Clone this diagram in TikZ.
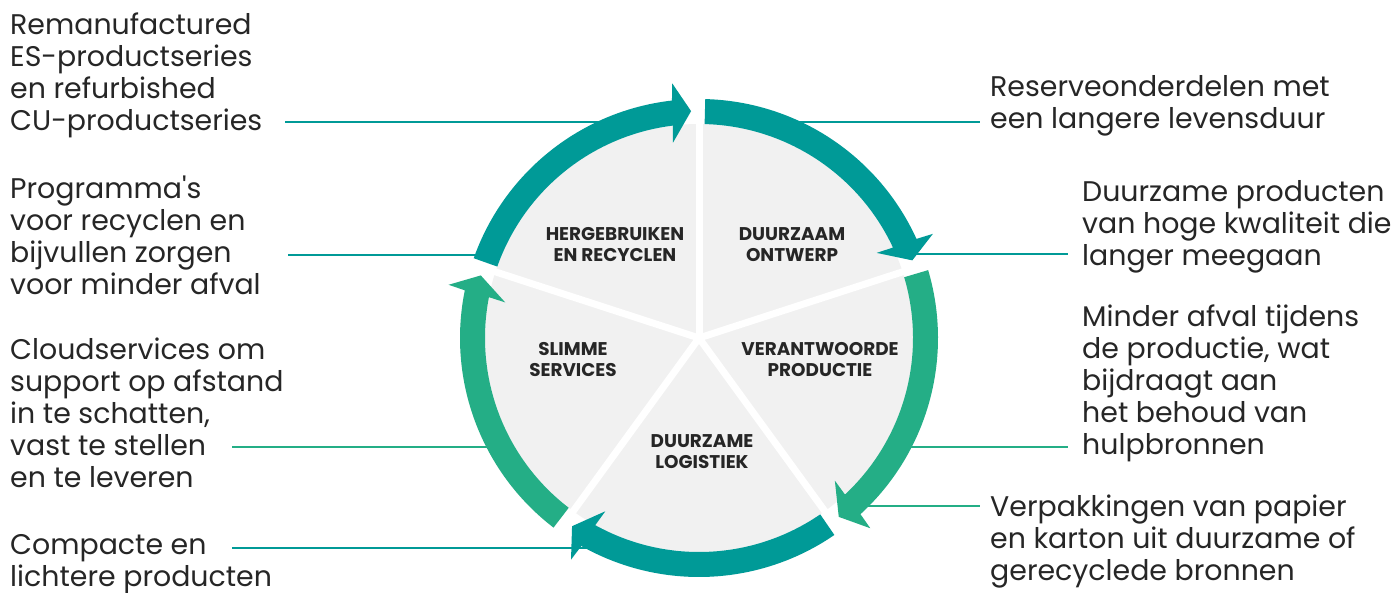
\documentclass[tikz,border=0pt]{standalone}
\usepackage{fontspec}
\setmainfont{Poppins}[Ligatures=TeXOff]
\definecolor{tealA}{RGB}{0,154,151}
\definecolor{greenA}{RGB}{36,174,134}
\definecolor{discgrey}{RGB}{241,241,241}
\definecolor{ink}{RGB}{38,38,38}
\tikzset{
  side/.style={anchor=base west, align=left, inner sep=0pt, font=\fontsize{28.4}{32}\selectfont, text=ink},
  lab/.style={align=center, inner sep=0pt, font=\bfseries\fontsize{18.4}{21}\selectfont, text=ink},
  conn/.style={line width=2pt},
  gapline/.style={white, line width=7pt},
}
\newcommand\cyclearrow[3]{%
  \pgfmathsetmacro\aT{#1-1.5}%
  \pgfmathsetmacro\aO{#2+6.5}%
  \pgfmathsetmacro\aOb{#2+6}%
  \pgfmathsetmacro\aTip{#2+2}%
  \pgfmathsetmacro\aIb{#2+7.6}%
  \pgfmathsetmacro\aI{#2+7}%
  \fill[#3, shift={(C)}] (\aT:239) arc[start angle=\aT, end angle=\aO, radius=239]
    -- (\aOb:256) -- (\aTip:227) -- (\aIb:197) -- (\aI:214)
    arc[start angle=\aI, end angle=\aT, radius=214] -- cycle;}
\begin{document}
\begin{tikzpicture}[x=1pt,y=1pt]
\useasboundingbox (0,0) rectangle (1391,592);
\fill[white] (0,0) rectangle (1391,592);
\coordinate (C) at (699,254);

% side texts (anchored at the baseline of the last line)
\node[side] (l1) at (10,461) {Remanufactured\\ES-productseries\\en refurbished\\CU-productseries};
\node[side] (l2) at (10,297) {Programma's\\voor recyclen en\\bijvullen zorgen\\voor minder afval};
\node[side] (l3) at (10,105) {Cloudservices om\\support op afstand\\in te schatten,\\vast te stellen\\en te leveren};
\node[side] (l4) at (10,6) {Compacte en\\lichtere producten};
\node[side] (r1) at (990,463) {Reserveonderdelen met\\een langere levensduur};
\node[side] (r2) at (1082,326) {Duurzame producten\\van hoge kwaliteit die\\langer meegaan};
\node[side] (r3) at (1082,138) {Minder afval tijdens\\de productie, wat\\bijdraagt aan\\het behoud van\\hulpbronnen};
\node[side] (r4) at (990,12) {Verpakkingen van papier\\en karton uit duurzame of\\gerecyclede bronnen};

% connector endpoints
\coordinate (l1a) at (285,470); \coordinate (l1b) at (630,470);
\coordinate (l2a) at (288,337); \coordinate (l2b) at (492,337);
\coordinate (l3a) at (232,145); \coordinate (l3b) at (501,145);
\coordinate (l4a) at (232,44);  \coordinate (l4b) at (612,44);
\coordinate (r1a) at (766,470); \coordinate (r1b) at (980,470);
\coordinate (r2a) at (909,338); \coordinate (r2b) at (1068,338);
\coordinate (r3a) at (897,145); \coordinate (r3b) at (1068,145);
\coordinate (r4a) at (850,86);  \coordinate (r4b) at (980,86);
\draw[conn, tealA] (l1a) -- (l1b);
\draw[conn, tealA] (l2a) -- (l2b);
\draw[conn, greenA] (l3a) -- (l3b);
\draw[conn, tealA] (l4a) -- (l4b);
\draw[conn, tealA] (r1a) -- (r1b);
\draw[conn, tealA] (r2a) -- (r2b);
\draw[conn, greenA] (r3a) -- (r3b);
\draw[conn, greenA] (r4a) -- (r4b);

% disc
\fill[discgrey] (C) circle[radius=214];
\foreach \g in {90,18,-54,-126,162} \draw[gapline] (C) -- ++(\g:216);

% arrows
\cyclearrow{90}{18}{tealA}
\cyclearrow{18}{-54}{greenA}
\cyclearrow{-54}{-126}{tealA}
\cyclearrow{-126}{-198}{greenA}
\cyclearrow{-198}{-270}{tealA}

% labels
\node[lab] (s1) at (615,347) {HERGEBRUIKEN\\EN RECYCLEN};
\node[lab] (s2) at (792,347) {DUURZAAM\\ONTWERP};
\node[lab] (s3) at (820,232) {VERANTWOORDE\\PRODUCTIE};
\node[lab] (s4) at (702,140) {DUURZAME\\LOGISTIEK};
\node[lab] (s5) at (573,232) {SLIMME\\SERVICES};
\end{tikzpicture}
\end{document}
